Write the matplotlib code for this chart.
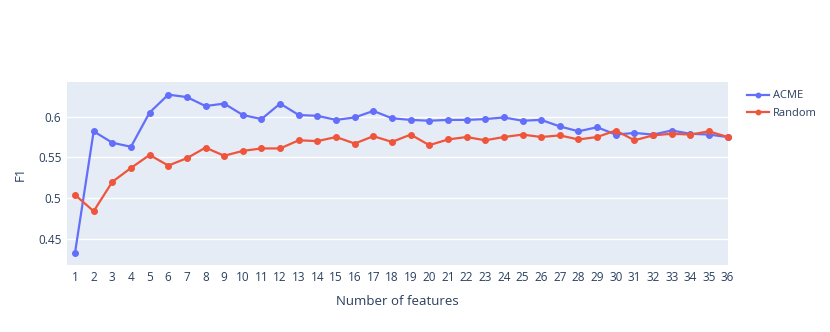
import matplotlib.pyplot as plt

plt.rcParams['font.family'] = ['Open Sans', 'DejaVu Sans']

features = list(range(1, 37))
acme = [0.433, 0.582, 0.568, 0.563, 0.605, 0.627, 0.624, 0.613, 0.616, 0.602, 0.597, 0.616,
        0.602, 0.601, 0.596, 0.599, 0.607, 0.598, 0.596, 0.595, 0.596, 0.596, 0.597, 0.599,
        0.595, 0.596, 0.588, 0.582, 0.587, 0.578, 0.580, 0.578, 0.583, 0.579, 0.578, 0.575]
random_ = [0.504, 0.484, 0.520, 0.537, 0.553, 0.540, 0.549, 0.562, 0.552, 0.558, 0.561, 0.561,
           0.571, 0.570, 0.575, 0.567, 0.576, 0.569, 0.578, 0.565, 0.572, 0.575, 0.571, 0.575,
           0.578, 0.575, 0.577, 0.572, 0.575, 0.583, 0.571, 0.577, 0.579, 0.578, 0.582, 0.575]
yticks = [0.45, 0.5, 0.55, 0.6]
ytick_labels = ["0.45", "0.5", "0.55", "0.6"]

txt = "#2a3f5f"
fig = plt.figure(figsize=(8.3, 3.32), dpi=100)
ax = fig.add_axes([67/830, 1-265/332, (728-67)/830, (265-82)/332])
ax.set_facecolor("#E5ECF6")

ax.plot(features, acme, color="#636EFA", lw=1.6, marker="o", ms=4, label="ACME", clip_on=False, zorder=3)
ax.plot(features, random_, color="#EF553B", lw=1.6, marker="o", ms=4, label="Random", clip_on=False, zorder=3)

ax.set_xlim(0.57, 36.02)
ax.set_ylim(0.418, 0.6425)
ax.set_xticks(features)
ax.set_xticklabels([str(f) for f in features])
ax.set_yticks(yticks)
ax.set_yticklabels(ytick_labels)
ax.tick_params(length=0, labelsize=8.5, colors=txt, pad=4)
ax.grid(axis="y", color="white", lw=1)
ax.set_axisbelow(True)
for s in ax.spines.values():
    s.set_visible(False)

ax.set_xlabel("Number of features", fontsize=9.5, color=txt, labelpad=8)
ax.set_ylabel("F1", fontsize=9.5, color=txt, labelpad=8)

ax.legend(loc="upper left", bbox_to_anchor=(1.018, 0.99), frameon=False, fontsize=8,
          labelcolor=txt, handlelength=2.0, handletextpad=0.4, markerscale=0.8,
          borderaxespad=0.2, labelspacing=0.55)

fig.savefig("out.png", dpi=100)
